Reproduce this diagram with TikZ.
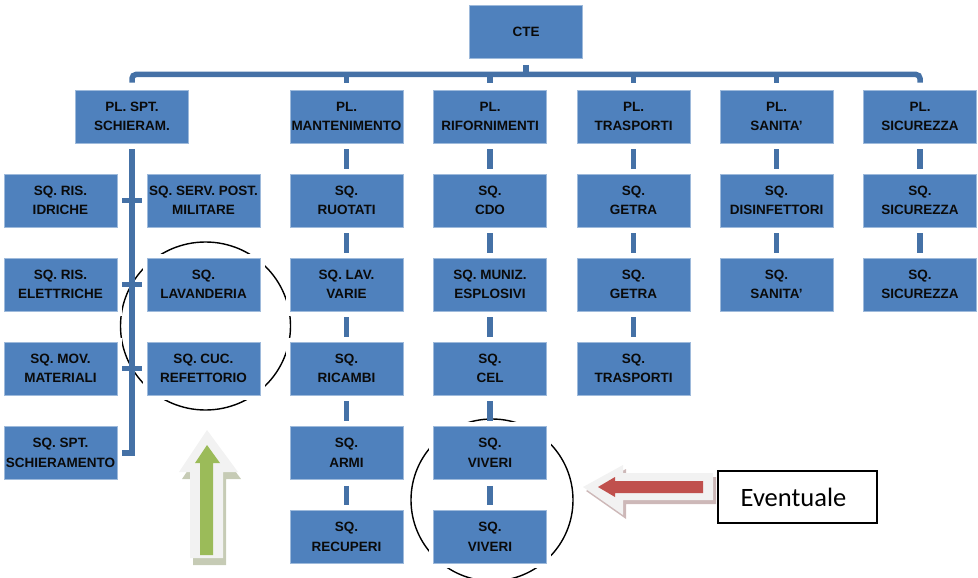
\documentclass[tikz,border=0pt]{standalone}
\usepackage{fontspec}
\setmainfont{Liberation Sans}
\newfontfamily\notefont{Carlito}
\definecolor{boxblue}{HTML}{4F81BD}
\definecolor{linkblue}{HTML}{4571A6}
\definecolor{boxtext}{HTML}{0A0A0A}
\definecolor{arrowbase}{HTML}{F2F2F2}
\definecolor{greenshade}{HTML}{AEB596}
\definecolor{redshade}{HTML}{B89A9A}
\definecolor{arrowgreen}{HTML}{9BBB59}
\definecolor{arrowred}{HTML}{C0504D}
\tikzset{
  unit/.style={rectangle, fill=boxblue, draw=boxblue!55!white, line width=0.8pt,
    preaction={draw=white, line width=9pt},
    minimum width=113pt, minimum height=53pt, inner sep=0pt, align=center,
    text=boxtext, font=\bfseries\fontsize{13.5}{19.5}\selectfont},
  stub/.style={draw=linkblue, line width=5.5pt},
  bus/.style={draw=linkblue, line width=5.5pt, rounded corners=4pt},
  group/.style={draw=black, line width=1.4pt},
  notebox/.style={rectangle, draw=black, line width=1.3pt, fill=white,
    minimum width=159pt, minimum height=52pt, inner sep=0pt,
    font=\notefont\fontsize{26.5}{30}\selectfont}
}
\begin{document}
\begin{tikzpicture}[x=1pt,y=-1pt]
\useasboundingbox (0,0) rectangle (978,578);

% grouping rings, behind the units
\draw[group] (205.5,326) ellipse [x radius=85, y radius=84];
\draw[group] (492,500) ellipse [x radius=81, y radius=81];

% top command
\node[unit] (cte) at (526,32) {CTE};

% platoons
\node[unit] (spt) at (132,116.5)   {PL. SPT.\\SCHIERAM.};
\node[unit] (man) at (346.5,116.5) {PL.\\MANTENIMENTO};
\node[unit] (rif) at (490,116.5)   {PL.\\RIFORNIMENTI};
\node[unit] (tra) at (633.5,116.5) {PL.\\TRASPORTI};
\node[unit] (san) at (776.5,116.5) {PL.\\SANITA'};
\node[unit] (sic) at (920,116.5)   {PL.\\SICUREZZA};

% squads of PL. SPT. SCHIERAM.
\node[unit] (idr) at (60.5,200.5)  {SQ. RIS.\\IDRICHE};
\node[unit] (ele) at (60.5,284.5)  {SQ. RIS.\\ELETTRICHE};
\node[unit] (mov) at (60.5,368.5)  {SQ. MOV.\\MATERIALI};
\node[unit] (sch) at (60.5,453)    {SQ. SPT.\\SCHIERAMENTO};
\node[unit] (srv) at (203.5,200.5) {SQ. SERV. POST.\\MILITARE};
\node[unit] (lav) at (203.5,284.5) {SQ.\\LAVANDERIA};
\node[unit] (cuc) at (203.5,368.5) {SQ. CUC.\\REFETTORIO};

% squads of PL. MANTENIMENTO
\node[unit] (m1) at (346.5,200.5) {SQ.\\RUOTATI};
\node[unit] (m2) at (346.5,284.5) {SQ. LAV.\\VARIE};
\node[unit] (m3) at (346.5,368.5) {SQ.\\RICAMBI};
\node[unit] (m4) at (346.5,453)   {SQ.\\ARMI};
\node[unit] (m5) at (346.5,537)   {SQ.\\RECUPERI};

% squads of PL. RIFORNIMENTI
\node[unit] (r1) at (490,200.5) {SQ.\\CDO};
\node[unit] (r2) at (490,284.5) {SQ. MUNIZ.\\ESPLOSIVI};
\node[unit] (r3) at (490,368.5) {SQ.\\CEL};
\node[unit] (r4) at (490,453)   {SQ.\\VIVERI};
\node[unit] (r5) at (490,537)   {SQ.\\VIVERI};

% squads of PL. TRASPORTI
\node[unit] (t1) at (633.5,200.5) {SQ.\\GETRA};
\node[unit] (t2) at (633.5,284.5) {SQ.\\GETRA};
\node[unit] (t3) at (633.5,368.5) {SQ.\\TRASPORTI};

% squads of PL. SANITA'
\node[unit] (s1) at (776.5,200.5) {SQ.\\DISINFETTORI};
\node[unit] (s2) at (776.5,284.5) {SQ.\\SANITA'};

% squads of PL. SICUREZZA
\node[unit] (k1) at (920,200.5) {SQ.\\SICUREZZA};
\node[unit] (k2) at (920,284.5) {SQ.\\SICUREZZA};

% main bus
\coordinate (busy) at (0,74.5);
\draw[stub] ([yshift=-6pt]cte.south) -- (cte.south |- busy);
\draw[bus] ([yshift=7pt]spt.north) -- (spt.north |- busy) -- (sic.north |- busy) -- ([yshift=7pt]sic.north);
\foreach \p in {man,rif,tra,san}
  \draw[stub] (\p.north |- busy) -- ([yshift=7pt]\p.north);

% trunk of PL. SPT. SCHIERAM.
\draw[stub] ([yshift=-6pt]spt.south) |- ([xshift=5pt]sch.east);
\draw[stub] ([xshift=5pt]idr.east) -- ([xshift=-5pt]srv.west);
\draw[stub] ([xshift=5pt]ele.east) -- ([xshift=-5pt]lav.west);
\draw[stub] ([xshift=5pt]mov.east) -- ([xshift=-5pt]cuc.west);

% column links
\foreach \a/\b in {man/m1,m1/m2,m2/m3,m3/m4,m4/m5,
                   rif/r1,r1/r2,r2/r3,r3/r4,r4/r5,
                   tra/t1,t1/t2,t2/t3,
                   san/s1,s1/s2,
                   sic/k1,k1/k2}
  \draw[stub] ([yshift=-6pt]\a.south) -- ([yshift=5pt]\b.north);

% upward block arrow
\fill[greenshade, opacity=0.7] (210,437) -- (241,479) -- (226,479) -- (226,565) -- (193,565) -- (193,479) -- (182,479) -- cycle;
\fill[arrowbase] (207,430) -- (238,472) -- (223,472) -- (223,558) -- (190,558) -- (190,472) -- (179,472) -- cycle;
\fill[arrowgreen] (207,445) -- (220,463) -- (213,463) -- (213,555) -- (200,555) -- (200,463) -- (195,463) -- cycle;

% leftward block arrow
\fill[redshade, opacity=0.7] (586,491) -- (626,469) -- (626,477) -- (716,477) -- (716,504) -- (626,504) -- (626,519) -- cycle;
\fill[arrowbase] (583,487) -- (623,465) -- (623,473) -- (713,473) -- (713,500) -- (623,500) -- (623,515) -- cycle;
\fill[arrowred] (598,487) -- (615,477) -- (615,481) -- (703,481) -- (703,493) -- (615,493) -- (615,497) -- cycle;

% note
\node[notebox] (note) at (797.5,497) {\hspace{-8pt}Eventuale};
\end{tikzpicture}
\end{document}
